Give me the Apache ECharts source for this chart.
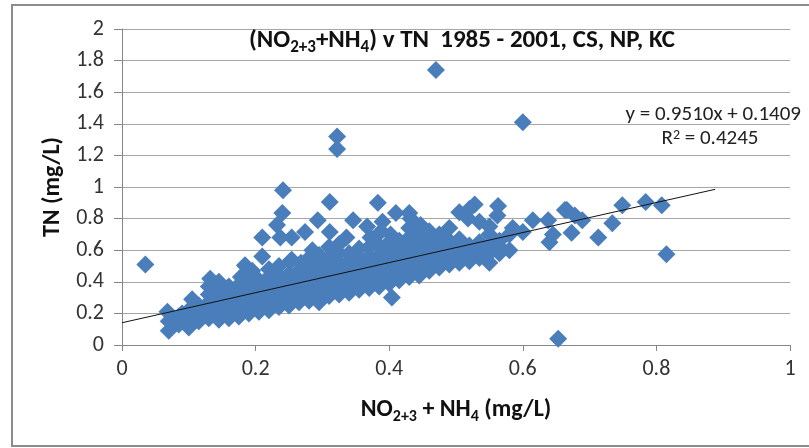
<!DOCTYPE html>
<html>
<head>
<meta charset="utf-8">
<script src="https://cdn.jsdelivr.net/npm/echarts@6/dist/echarts.min.js"></script>
<style>
  html, body { margin: 0; padding: 0; background: #fff; }
  #main { width: 809px; height: 448px; }
</style>
</head>
<body>
<div id="main"></div>
<script>
// NO2+3 + NH4 (x) vs TN (y), mg/L
var clusterLeft = [
  [0.07,0.09],[0.07,0.15],[0.068,0.21],[0.085,0.13],[0.085,0.18],[0.09,0.2],
  [0.1,0.11],[0.1,0.16],[0.1,0.22],[0.105,0.29],[0.115,0.15],[0.115,0.2],[0.115,0.25],
  [0.13,0.17],[0.13,0.22],[0.13,0.27],[0.13,0.32],[0.13,0.37],[0.132,0.42],
  [0.145,0.16],[0.145,0.21],[0.145,0.26],[0.145,0.31],[0.145,0.36],[0.145,0.4],
  [0.16,0.17],[0.16,0.22],[0.16,0.27],[0.16,0.32],[0.16,0.37],
  [0.175,0.18],[0.175,0.23],[0.175,0.28],[0.175,0.33],[0.175,0.38],[0.178,0.43],
  [0.19,0.2],[0.19,0.25],[0.19,0.3],[0.19,0.35],[0.19,0.4],[0.185,0.5],[0.195,0.47],
  [0.205,0.21],[0.205,0.26],[0.205,0.31],[0.205,0.36],[0.205,0.41],[0.21,0.56],
  [0.22,0.22],[0.22,0.27],[0.22,0.32],[0.22,0.37],[0.22,0.43],[0.22,0.48]
];
var clusterMid = [
  [0.235,0.24],[0.235,0.29],[0.235,0.34],[0.235,0.39],[0.235,0.44],[0.235,0.5],
  [0.25,0.25],[0.25,0.3],[0.25,0.35],[0.25,0.4],[0.25,0.45],[0.252,0.53],
  [0.265,0.27],[0.265,0.32],[0.265,0.37],[0.265,0.42],[0.265,0.47],[0.268,0.52],
  [0.28,0.28],[0.28,0.33],[0.28,0.38],[0.28,0.43],[0.28,0.48],[0.28,0.55],[0.285,0.6],
  [0.295,0.27],[0.295,0.31],[0.295,0.36],[0.295,0.41],[0.295,0.46],[0.295,0.51],[0.295,0.57],
  [0.31,0.31],[0.31,0.35],[0.31,0.4],[0.31,0.45],[0.31,0.5],[0.31,0.55],[0.31,0.62],
  [0.325,0.32],[0.325,0.37],[0.325,0.42],[0.325,0.47],[0.325,0.52],[0.325,0.58],[0.325,0.64],
  [0.34,0.33],[0.34,0.38],[0.34,0.43],[0.34,0.48],[0.34,0.53],[0.34,0.58],
  [0.355,0.35],[0.355,0.4],[0.355,0.45],[0.355,0.5],[0.355,0.55],[0.355,0.61],
  [0.37,0.36],[0.37,0.41],[0.37,0.46],[0.37,0.51],[0.37,0.56],[0.37,0.62],[0.372,0.68],
  [0.385,0.37],[0.385,0.42],[0.385,0.47],[0.385,0.52],[0.385,0.57],[0.385,0.63],[0.388,0.72],[0.39,0.78],
  [0.4,0.39],[0.4,0.44],[0.4,0.49],[0.4,0.54],[0.4,0.59],[0.4,0.65],[0.402,0.7]
];
var clusterRight = [
  [0.415,0.41],[0.415,0.46],[0.415,0.51],[0.415,0.56],[0.415,0.61],[0.415,0.66],
  [0.43,0.43],[0.43,0.48],[0.43,0.53],[0.43,0.58],[0.43,0.63],[0.43,0.68],[0.43,0.74],[0.432,0.8],
  [0.445,0.44],[0.445,0.49],[0.445,0.54],[0.445,0.59],[0.445,0.64],[0.445,0.7],[0.447,0.76],
  [0.46,0.47],[0.46,0.52],[0.46,0.57],[0.46,0.62],[0.46,0.67],[0.46,0.72],
  [0.475,0.49],[0.475,0.54],[0.475,0.59],[0.475,0.64],[0.475,0.7],
  [0.49,0.51],[0.49,0.56],[0.49,0.61],[0.49,0.66],[0.49,0.74],
  [0.505,0.52],[0.505,0.57],[0.505,0.62],[0.505,0.67],[0.505,0.84],
  [0.52,0.53],[0.52,0.58],[0.52,0.63],[0.518,0.8],[0.52,0.86],
  [0.535,0.55],[0.535,0.6],[0.535,0.65],[0.535,0.78],[0.528,0.89],
  [0.55,0.52],[0.55,0.58],[0.55,0.63],[0.55,0.7],[0.55,0.75],
  [0.565,0.58],[0.565,0.62],[0.565,0.66],[0.562,0.82],[0.563,0.88],
  [0.58,0.6],[0.58,0.7],[0.585,0.74]
];
var scatterUpper = [
  [0.21,0.68],[0.232,0.76],[0.24,0.835],[0.237,0.68],[0.254,0.68],[0.274,0.715],
  [0.293,0.79],[0.311,0.905],[0.311,0.715],[0.336,0.68],[0.346,0.79],[0.367,0.75],
  [0.383,0.9],[0.41,0.835],[0.43,0.835],[0.254,0.54],[0.184,0.505]
];
var scatterRight = [
  [0.6,0.715],[0.615,0.79],[0.638,0.79],[0.64,0.65],[0.645,0.7],[0.663,0.855],
  [0.666,0.855],[0.678,0.82],[0.689,0.79],[0.673,0.71],[0.713,0.68],[0.734,0.77],
  [0.749,0.885],[0.784,0.905],[0.808,0.885],[0.815,0.575]
];
var outliers = [
  [0.035,0.51],[0.47,1.74],[0.6,1.41],[0.322,1.32],[0.322,1.24],[0.241,0.98],
  [0.653,0.04],[0.404,0.3]
];

// linear trendline shown on the chart
var slope = 0.9510;
var intercept = 0.1409;
var trendX = [0, 0.888];

var xTicks = [0, 0.2, 0.4, 0.6, 0.8, 1];
var yTicks = [0, 0.2, 0.4, 0.6, 0.8, 1, 1.2, 1.4, 1.6, 1.8, 2];

var FONT = "Carlito, 'Liberation Sans Narrow', 'Open Sans', sans-serif";
var BLUE = "#4a7ebb";

var allPoints = clusterLeft.concat(clusterMid, clusterRight, scatterUpper, scatterRight, outliers);
var trendData = trendX.map(function (x) { return [x, intercept + slope * x]; });

var chart = echarts.init(document.getElementById("main"));
chart.setOption({
  animation: false,
  grid: { left: 122, right: 19, top: 29, bottom: 103 },
  xAxis: {
    type: "value",
    min: xTicks[0],
    max: xTicks[xTicks.length - 1],
    interval: 0.2,
    name: "NO{sub|2+3} + NH{sub|4} (mg/L)",
    nameLocation: "middle",
    nameGap: 50,
    nameTextStyle: {
      fontFamily: FONT, fontSize: 24, fontWeight: "bold", color: "#111",
      lineHeight: 30,
      rich: { sub: { fontFamily: FONT, fontSize: 16, fontWeight: "bold", color: "#111", verticalAlign: "bottom", lineHeight: 30 } }
    },
    axisLine: { lineStyle: { color: "#868686", width: 1 } },
    axisTick: { show: true, length: 6, lineStyle: { color: "#868686" } },
    axisLabel: { fontFamily: FONT, fontSize: 22, color: "#333", margin: 13 },
    splitLine: { show: false }
  },
  yAxis: {
    type: "value",
    min: yTicks[0],
    max: yTicks[yTicks.length - 1],
    interval: 0.2,
    name: "TN (mg/L)",
    nameLocation: "middle",
    nameGap: 53,
    nameRotate: 90,
    nameTextStyle: { fontFamily: FONT, fontSize: 24, fontWeight: "bold", color: "#111" },
    axisLine: { show: true, lineStyle: { color: "#868686", width: 1 } },
    axisTick: { show: true, length: 8, lineStyle: { color: "#868686" } },
    axisLabel: { fontFamily: FONT, fontSize: 22, color: "#333", margin: 18 },
    splitLine: { show: true, lineStyle: { color: "#a6a6a6", width: 1 } }
  },
  graphic: [
    { type: "rect", shape: { x: 12, y: 5, width: 820, height: 441 },
      style: { fill: null, stroke: "#8c8c8c", lineWidth: 2 }, silent: true, z: -10 },
    { type: "text", x: 462, y: 41, z: 100,
      style: {
        text: "(NO{sub|2+3}+NH{sub|4}) v TN  1985 - 2001, CS, NP, KC",
        font: "bold 25px " + FONT, fill: "#111", align: "center", verticalAlign: "middle",
        lineHeight: 30,
        rich: { sub: { fontFamily: FONT, fontSize: 17, fontWeight: "bold", fill: "#111", verticalAlign: "bottom", lineHeight: 30 } }
      } },
    { type: "text", x: 801, y: 115, z: 100,
      style: { text: "y = 0.9510x + 0.1409", font: "21px " + FONT, fill: "#222", align: "right", verticalAlign: "middle" } },
    { type: "text", x: 710, y: 139, z: 100,
      style: { text: "R{sup|2} = 0.4245", font: "21px " + FONT, fill: "#222", align: "center", verticalAlign: "middle",
        rich: { sup: { fontFamily: FONT, fontSize: 14, fill: "#222", verticalAlign: "top" } } } }
  ],
  series: [
    {
      type: "scatter",
      data: allPoints,
      symbol: "diamond",
      symbolSize: 18,
      itemStyle: { color: BLUE, opacity: 1 },
      z: 2
    },
    {
      type: "line",
      data: trendData,
      showSymbol: false,
      lineStyle: { color: "#111", width: 1 },
      z: 3
    }
  ]
});
</script>
</body>
</html>
